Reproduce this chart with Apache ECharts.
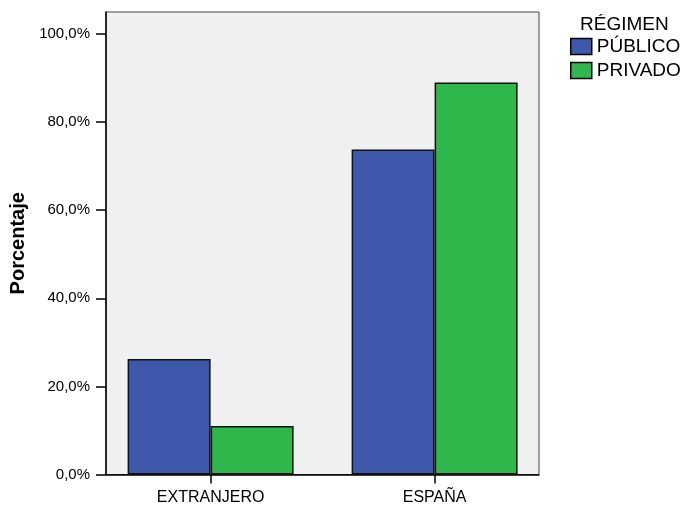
<!DOCTYPE html>
<html>
<head>
<meta charset="utf-8">
<script src="https://cdn.jsdelivr.net/npm/echarts@6/dist/echarts.min.js"></script>
<style>
html,body{margin:0;padding:0;background:#fff;}
#chart{width:687px;height:506px;}
</style>
</head>
<body>
<div id="chart"></div>
<script>
const categories = ['EXTRANJERO', 'ESPAÑA'];
const seriesNames = ['PÚBLICO', 'PRIVADO'];
const publicoValues = [26.2, 73.8];
const privadoValues = [11.0, 89.0];
const yTicks = [0, 20, 40, 60, 80, 100];
const legendTitle = 'RÉGIMEN';
const yAxisTitle = 'Porcentaje';

const FONT = 'Arial, "Liberation Sans", Helvetica, sans-serif';
const chart = echarts.init(document.getElementById('chart'), null, {renderer: 'canvas'});
const catIdx = categories.map((c, i) => i);

const option = {
  animation: false,
  backgroundColor: '#ffffff',
  textStyle: {fontFamily: FONT},
  title: {
    text: legendTitle,
    left: 580, top: 15, padding: 0,
    textStyle: {fontFamily: FONT, fontSize: 19, fontWeight: 'normal', color: '#000'}
  },
  legend: {
    orient: 'vertical',
    left: 570, top: 37, padding: 0,
    itemWidth: 21, itemHeight: 16, itemGap: 5,
    icon: 'rect',
    textStyle: {fontFamily: FONT, fontSize: 19, color: '#000'},
    itemStyle: {borderColor: '#000', borderWidth: 1.5},
    data: seriesNames
  },
  grid: {
    left: 106, top: 12, right: 148, bottom: 31.5,
    show: true, backgroundColor: '#f0f0f0', borderColor: '#444', borderWidth: 1,
    containLabel: false
  },
  xAxis: {
    type: 'value',
    min: -0.467, max: 1.466,
    axisLine: {show: true, onZero: false, lineStyle: {color: '#000', width: 1.5}},
    axisTick: {show: true, length: 9, customValues: catIdx, lineStyle: {color: '#000', width: 1.5}},
    axisLabel: {
      show: true, margin: 15, customValues: catIdx,
      formatter: v => categories[Math.round(v)],
      fontFamily: FONT, fontSize: 16, color: '#000'
    },
    splitLine: {show: false}
  },
  yAxis: {
    type: 'value',
    min: 0, max: 105,
    name: yAxisTitle,
    nameLocation: 'middle',
    nameGap: 78,
    nameRotate: 90,
    nameTextStyle: {fontFamily: FONT, fontSize: 20, fontWeight: 'bold', color: '#000'},
    axisLine: {show: true, onZero: false, lineStyle: {color: '#000', width: 1.5}},
    axisTick: {show: true, length: 10, customValues: yTicks, lineStyle: {color: '#000', width: 1.5}},
    axisLabel: {
      show: true, margin: 16, customValues: yTicks,
      formatter: v => v.toFixed(1).replace('.', ',') + '%',
      fontFamily: FONT, fontSize: 15, color: '#000'
    },
    splitLine: {show: false}
  },
  series: [
    {
      name: seriesNames[0], type: 'bar',
      barWidth: 83, barGap: '0%',
      itemStyle: {color: '#3e58ac', borderColor: '#111', borderWidth: 1.5},
      data: publicoValues.map((v, i) => [catIdx[i], v])
    },
    {
      name: seriesNames[1], type: 'bar',
      barWidth: 83, barGap: '0%',
      itemStyle: {color: '#2eb84b', borderColor: '#111', borderWidth: 1.5},
      data: privadoValues.map((v, i) => [catIdx[i], v])
    }
  ]
};
chart.setOption(option);
</script>
</body>
</html>
